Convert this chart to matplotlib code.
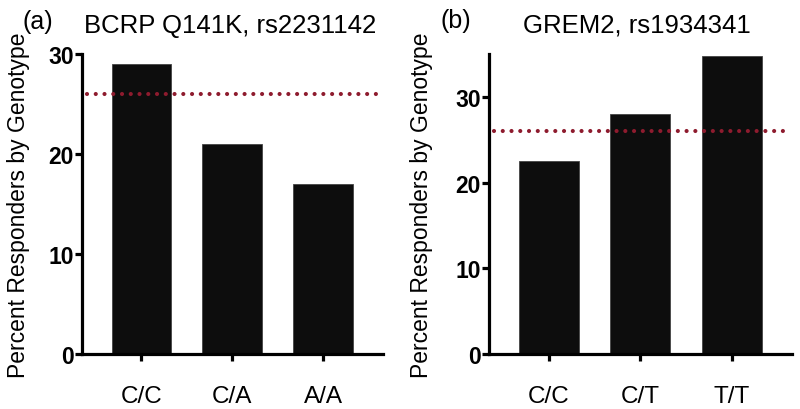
import matplotlib
matplotlib.use("Agg")
import matplotlib.pyplot as plt

plt.rcParams['font.family'] = ['Liberation Sans', 'DejaVu Sans']

# Data
cats_a = ["C/C", "C/A", "A/A"]
vals_a = [29, 21, 17]
title_a = "BCRP Q141K, rs2231142"
ref_a = 26

cats_b = ["C/C", "C/T", "T/T"]
vals_b = [22.5, 28, 34.8]
title_b = "GREM2, rs1934341"
ref_b = 26

ylabel = "Percent Responders by Genotype"

W, H = 800, 410
fig = plt.figure(figsize=(W / 100, H / 100), dpi=100)

def px_axes(left, right, top, bottom):
    return fig.add_axes([left / W, 1 - bottom / H, (right - left) / W, (bottom - top) / H])

ax_a = px_axes(82, 383, 55, 355)
ax_b = px_axes(489, 792, 55, 355)

def style(ax, cats, vals, ref, ylim, yticks, label_x):
    x = list(range(len(cats)))
    ax.bar(x, vals, width=0.66, color='#0d0d0d', edgecolor='#444444', linewidth=0.6, zorder=2)
    ax.hlines(ref, -0.6, 2.6, colors='#8E1B2E', linewidth=3.0,
              linestyles=(0, (0.001, 2.1)), zorder=3)
    for ln in ax.collections[-1:]:
        ln.set_capstyle('round')
    ax.set_xlim(-0.655, 2.66)
    ax.set_ylim(*ylim)
    ax.set_yticks(yticks)
    ax.set_xticks(x)
    ax.set_xticklabels(cats, fontsize=17.5)
    for s in ['top', 'right']:
        ax.spines[s].set_visible(False)
    for s in ['left', 'bottom']:
        ax.spines[s].set_linewidth(2.3)
    ax.tick_params(axis='y', length=5, width=2.3, labelsize=16.5, pad=1)
    ax.tick_params(axis='x', length=5, width=2.3, labelsize=17.5, pad=17)
    for t in ax.get_yticklabels():
        t.set_fontweight('bold')
    ax.set_ylabel(ylabel, fontsize=16.5)
    ax.yaxis.set_label_coords(label_x, 0.5)

style(ax_a, cats_a, vals_a, ref_a, (0, 30), [0, 10, 20, 30], -0.173)
style(ax_b, cats_b, vals_b, ref_b, (0, 35), [0, 10, 20, 30], -0.185)

fig.text(230 / W, 1 - 33 / H, title_a, fontsize=18.5, ha='center', va='baseline')
fig.text(22 / W, 1 - 29 / H, "(a)", fontsize=18, ha='left', va='baseline')
fig.text(637 / W, 1 - 32 / H, title_b, fontsize=18.5, ha='center', va='baseline')
fig.text(440 / W, 1 - 28 / H, "(b)", fontsize=18, ha='left', va='baseline')

fig.savefig("out.png", dpi=100)
